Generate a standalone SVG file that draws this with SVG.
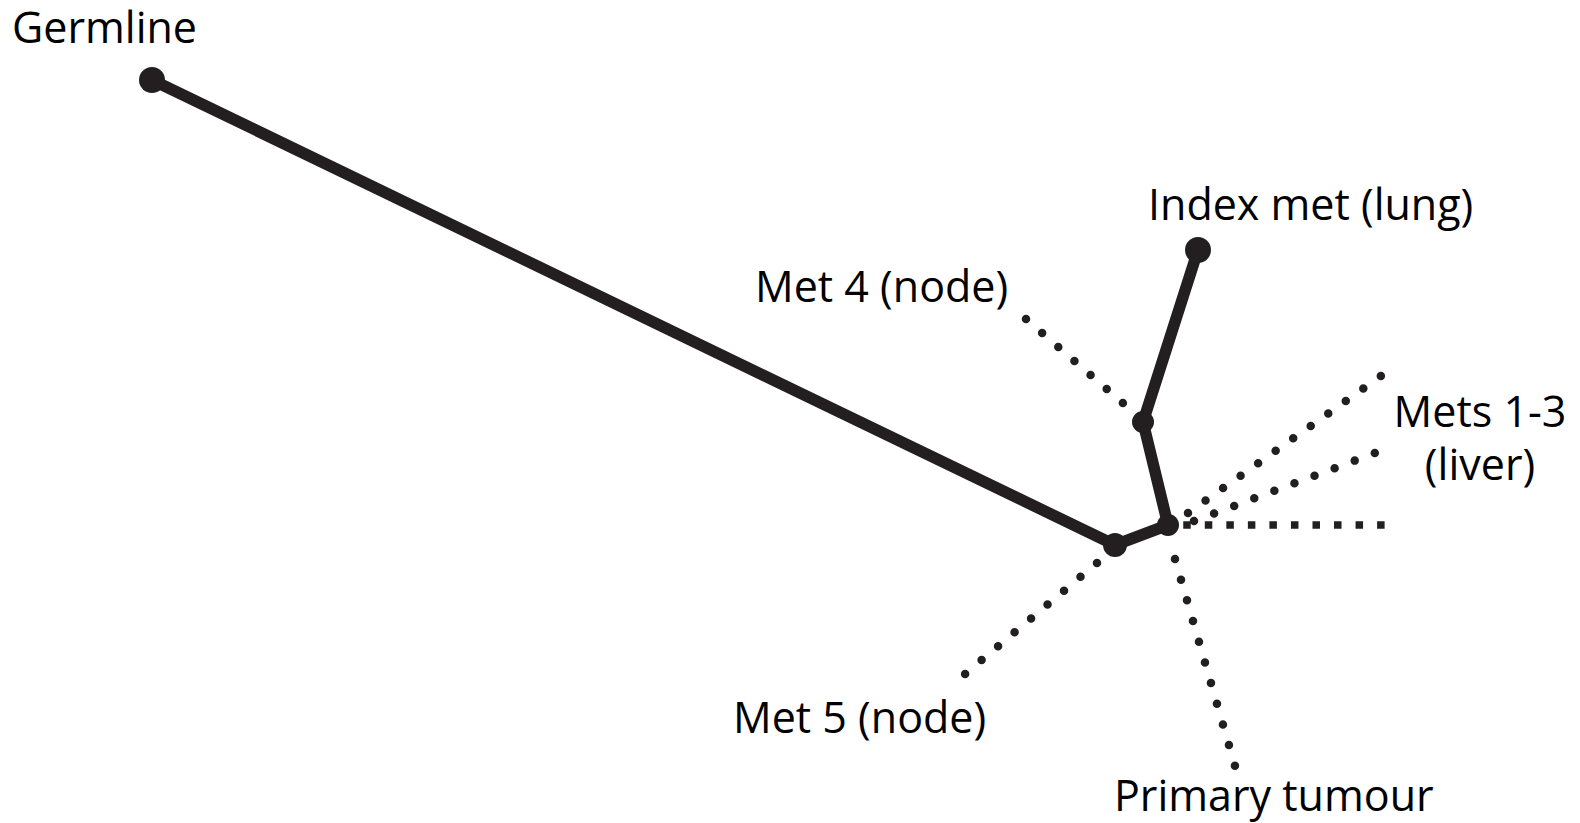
<svg xmlns="http://www.w3.org/2000/svg" width="1580" height="823" viewBox="0 0 1580 823">
<style>
.lbl{font-family:"Open Sans","Liberation Sans",sans-serif;font-size:43px;fill:#000}
.solid{stroke:#231f20;stroke-width:11.5;stroke-linecap:round;fill:none}
.dot{stroke:#231f20;stroke-width:8.5;stroke-linecap:round;fill:none}
.sq{stroke:#231f20;stroke-width:7.5;stroke-linecap:square;fill:none}
.n{fill:#231f20}
</style>
<rect width="1580" height="823" fill="#fff"/>
<g id="connectors">
<line class="solid" x1="152" y1="80" x2="1115" y2="545"/>
<line class="solid" x1="1115" y1="545" x2="1168" y2="525"/>
<line class="solid" x1="1168" y1="525" x2="1143" y2="422"/>
<line class="solid" x1="1143" y1="422" x2="1198" y2="250"/>
<line class="dot" stroke-dasharray="0 21.37" x1="1026" y1="319" x2="1124" y2="404"/>
<line class="dot" stroke-dasharray="0 21.5" x1="1188" y1="513" x2="1381" y2="376"/>
<line class="dot" stroke-dasharray="0 21.46" x1="1194" y1="521" x2="1375" y2="453"/>
<line class="sq" stroke-dasharray="0 21.54" x1="1187" y1="525" x2="1381" y2="525"/>
<line class="dot" stroke-dasharray="0 21.54" x1="1097" y1="563" x2="965" y2="674"/>
<line class="dot" stroke-dasharray="0 21.53" x1="1175" y1="559" x2="1235" y2="766"/>
</g>
<g id="node-germline">
<circle class="n" cx="152" cy="80" r="13"/>
<text class="lbl" x="12" y="43">Germline</text>
</g>
<g id="node-index-met">
<circle class="n" cx="1198" cy="250" r="13"/>
<text class="lbl" x="1148" y="220">Index met (lung)</text>
</g>
<g id="node-branch-met4">
<circle class="n" cx="1143" cy="422" r="11"/>
</g>
<g id="node-branch-primary">
<circle class="n" cx="1168" cy="525" r="11"/>
</g>
<g id="node-branch-met5">
<circle class="n" cx="1115" cy="545" r="12"/>
</g>
<g id="node-met4">
<text class="lbl" x="755" y="302">Met 4 (node)</text>
</g>
<g id="node-mets1-3">
<text class="lbl" text-anchor="middle" x="1480" y="427">Mets 1-3</text>
<text class="lbl" text-anchor="middle" x="1480" y="480">(liver)</text>
</g>
<g id="node-met5">
<text class="lbl" x="733" y="733">Met 5 (node)</text>
</g>
<g id="node-primary">
<text class="lbl" x="1114" y="811">Primary tumour</text>
</g>
</svg>
